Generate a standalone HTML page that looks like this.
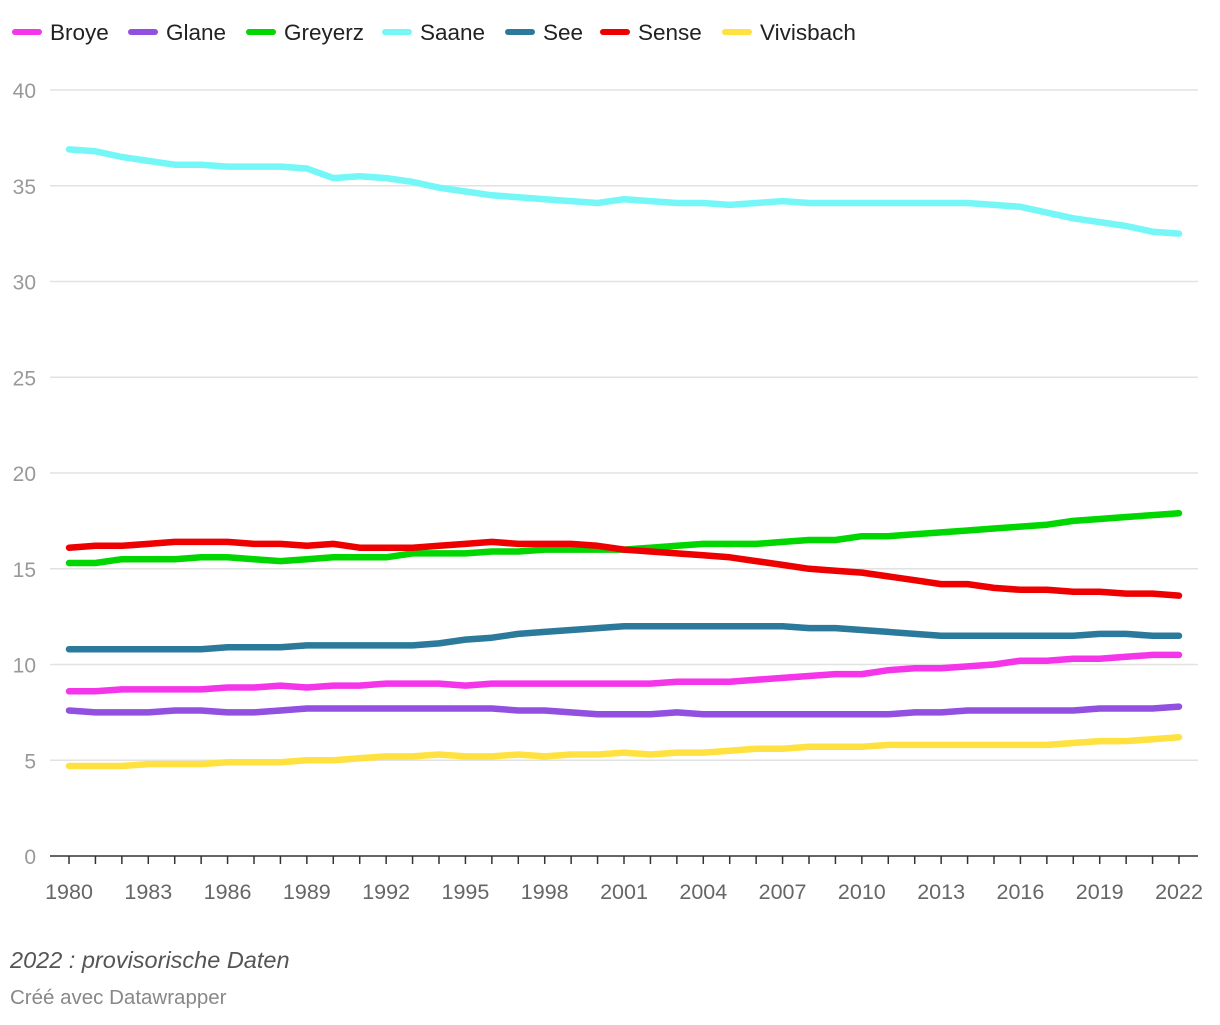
<!DOCTYPE html>
<html><head><meta charset="utf-8"><style>
body{margin:0;background:#fff;width:1220px;height:1020px;overflow:hidden;font-family:"Liberation Sans",sans-serif}
svg text{font-family:"Liberation Sans",sans-serif}
</style></head><body>
<svg id="chart" width="1220" height="1020">
<g id="legend"></g>
<g id="grid"></g>
<g id="yaxis"></g>
<g id="xaxis"></g>
<g id="lines"></g>
<text x="10" y="968" font-size="23.5" font-style="italic" fill="#555">2022 : provisorische Daten</text>
<text x="10" y="1004" font-size="20.5" fill="#888">Créé avec Datawrapper</text>
</svg>
<script>
const years = [];for(let y=1980;y<=2022;y++)years.push(y);
const seriesNames = ["Broye","Glane","Greyerz","Saane","See","Sense","Vivisbach"];
const seriesColors = ["#f535ea","#9150e0","#00d600","#76f7f7","#2b7a9b","#ee0000","#ffe23f"];
const broye = [8.6,8.6,8.7,8.7,8.7,8.7,8.8,8.8,8.9,8.8, 8.9,8.9,9.0,9.0,9.0,8.9,9.0,9.0,9.0,9.0, 9.0,9.0,9.0,9.1,9.1,9.1,9.2,9.3,9.4,9.5, 9.5,9.7,9.8,9.8,9.9,10.0,10.2,10.2,10.3,10.3, 10.4,10.5,10.5];
const glane = [7.6,7.5,7.5,7.5,7.6,7.6,7.5,7.5,7.6,7.7, 7.7,7.7,7.7,7.7,7.7,7.7,7.7,7.6,7.6,7.5, 7.4,7.4,7.4,7.5,7.4,7.4,7.4,7.4,7.4,7.4, 7.4,7.4,7.5,7.5,7.6,7.6,7.6,7.6,7.6,7.7, 7.7,7.7,7.8];
const greyerz = [15.3,15.3,15.5,15.5,15.5,15.6,15.6,15.5,15.4,15.5, 15.6,15.6,15.6,15.8,15.8,15.8,15.9,15.9,16.0,16.0, 16.0,16.0,16.1,16.2,16.3,16.3,16.3,16.4,16.5,16.5, 16.7,16.7,16.8,16.9,17.0,17.1,17.2,17.3,17.5,17.6, 17.7,17.8,17.9];
const saane = [36.9,36.8,36.5,36.3,36.1,36.1,36.0,36.0,36.0,35.9, 35.4,35.5,35.4,35.2,34.9,34.7,34.5,34.4,34.3,34.2, 34.1,34.3,34.2,34.1,34.1,34.0,34.1,34.2,34.1,34.1, 34.1,34.1,34.1,34.1,34.1,34.0,33.9,33.6,33.3,33.1, 32.9,32.6,32.5];
const see = [10.8,10.8,10.8,10.8,10.8,10.8,10.9,10.9,10.9,11.0, 11.0,11.0,11.0,11.0,11.1,11.3,11.4,11.6,11.7,11.8, 11.9,12.0,12.0,12.0,12.0,12.0,12.0,12.0,11.9,11.9, 11.8,11.7,11.6,11.5,11.5,11.5,11.5,11.5,11.5,11.6, 11.6,11.5,11.5];
const sense = [16.1,16.2,16.2,16.3,16.4,16.4,16.4,16.3,16.3,16.2, 16.3,16.1,16.1,16.1,16.2,16.3,16.4,16.3,16.3,16.3, 16.2,16.0,15.9,15.8,15.7,15.6,15.4,15.2,15.0,14.9, 14.8,14.6,14.4,14.2,14.2,14.0,13.9,13.9,13.8,13.8, 13.7,13.7,13.6];
const vivisbach = [4.7,4.7,4.7,4.8,4.8,4.8,4.9,4.9,4.9,5.0, 5.0,5.1,5.2,5.2,5.3,5.2,5.2,5.3,5.2,5.3, 5.3,5.4,5.3,5.4,5.4,5.5,5.6,5.6,5.7,5.7, 5.7,5.8,5.8,5.8,5.8,5.8,5.8,5.8,5.9,6.0, 6.0,6.1,6.2];
const seriesValues = [broye,glane,greyerz,saane,see,sense,vivisbach];
const yTicks = [0,5,10,15,20,25,30,35,40];
const xTickLabels = [1980,1983,1986,1989,1992,1995,1998,2001,2004,2007,2010,2013,2016,2019,2022];

const NS="http://www.w3.org/2000/svg";
const X0=69,X1=1179,Y0=856,Y1=90;
const xs=y=>X0+(y-1980)*(X1-X0)/(2022-1980);
const ys=v=>Y0-v*(Y0-Y1)/40;
function mk(tag,attrs,parent){const e=document.createElementNS(NS,tag);for(const k in attrs)e.setAttribute(k,attrs[k]);parent.appendChild(e);return e;}
const grid=document.getElementById('grid'),ya=document.getElementById('yaxis'),xa=document.getElementById('xaxis'),ln=document.getElementById('lines'),lg=document.getElementById('legend');
yTicks.forEach(t=>{
  const l=mk('line',{x1:50,x2:1198,y1:ys(t),y2:ys(t),stroke:t===0?'#333':'#e2e2e2','stroke-width':1.5},grid);
  
  
  const tx=mk('text',{x:36,y:ys(t)+8,'text-anchor':'end','font-size':21,fill:'#999'},ya);tx.textContent=t;
  
  
});
years.forEach(y=>{
  const t=mk('line',{x1:xs(y),x2:xs(y),y1:Y0,y2:Y0+8,stroke:'#333','stroke-width':1.5},xa);
  
  
});
xTickLabels.forEach(y=>{
  const tx=mk('text',{x:xs(y),y:899,'text-anchor':'middle','font-size':21.5,fill:'#666'},xa);tx.textContent=y;
  
  
});
seriesValues.forEach((vals,i)=>{
  const d=vals.map((v,j)=>(j?'L':'M')+xs(years[j]).toFixed(1)+','+ys(v).toFixed(1)).join('');
  const p=mk('path',{d:d,fill:'none',stroke:seriesColors[i],'stroke-width':6.5,'stroke-linejoin':'round','stroke-linecap':'round'},ln);
  
  
});
const legX=[12,128,246,382,505,600,722];
seriesNames.forEach((n,i)=>{
  const g=mk('g',{},lg);
  
  
  mk('line',{x1:legX[i]+3,x2:legX[i]+27,y1:32,y2:32,stroke:seriesColors[i],'stroke-width':6,'stroke-linecap':'round'},g);
  const t=mk('text',{x:legX[i]+38,y:40,'font-size':22.5,fill:'#222'},g);t.textContent=n;
});
</script>
</body></html>
